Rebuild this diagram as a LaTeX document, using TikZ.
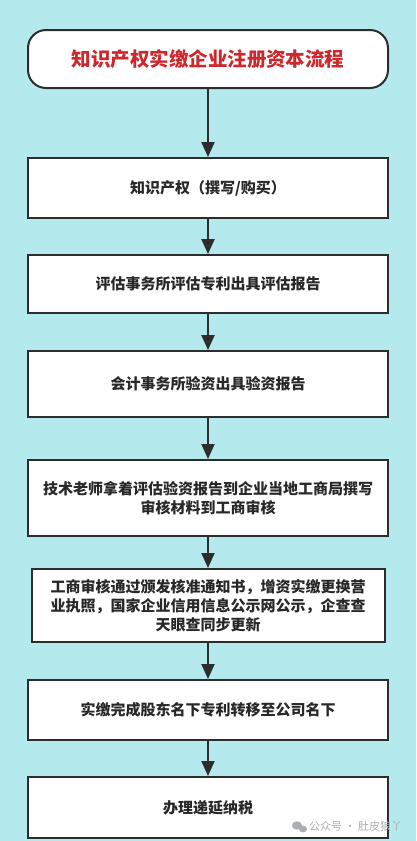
\documentclass[tikz,border=0pt]{standalone}
\usepackage{fontspec}
\setmainfont{Noto Sans CJK SC}
\usetikzlibrary{arrows.meta}
\definecolor{bgc}{RGB}{180,234,238}
\definecolor{edgec}{RGB}{45,45,45}
\definecolor{txtc}{RGB}{40,40,40}
\definecolor{titlec}{RGB}{205,40,45}
\definecolor{wmc}{RGB}{170,175,178}
\tikzset{
  stepbox/.style={draw=edgec, line width=2pt, fill=white, minimum width=360pt,
    text=txtc, font=\fontsize{15}{19}\selectfont\bfseries, align=center, inner sep=0pt},
  titlebox/.style={stepbox, rounded corners=18pt, text=titlec,
    font=\fontsize{19.5}{23}\selectfont\bfseries},
  flow/.style={draw=edgec, line width=2pt, -{Triangle[length=15pt,width=13pt]}},
}
\begin{document}
\begin{tikzpicture}[x=1pt,y=-1pt]
\fill[bgc] (0,0) rectangle (416,841);
\useasboundingbox (0,0) rectangle (416,841);
\node[titlebox, minimum height=58pt] (t) at (208,59) {知识产权实缴企业注册资本流程};
\node[stepbox, minimum height=60pt] (b1) at (208,188) {知识产权（撰写/购买）};
\node[stepbox, minimum height=58pt] (b2) at (208,284) {评估事务所评估专利出具评估报告};
\node[stepbox, minimum height=66pt] (b3) at (208,384) {会计事务所验资出具验资报告};
\node[stepbox, minimum height=76pt] (b4) at (208,498) {技术老师拿着评估验资报告到企业当地工商局撰写\\审核材料到工商审核};
\node[stepbox, minimum height=73pt, minimum width=353pt] (b5) at (208,605.5) {工商审核通过颁发核准通知书，增资实缴更换营\\业执照，国家企业信用信息公示网公示，企查查\\天眼查同步更新};
\node[stepbox, minimum height=60pt] (b6) at (208,710) {实缴完成股东名下专利转移至公司名下};
\node[stepbox, minimum height=61pt] (b7) at (208,807.5) {办理递延纳税};
\draw[flow] (t) -- (b1);
\draw[flow] (b1) -- (b2);
\draw[flow] (b2) -- (b3);
\draw[flow] (b3) -- (b4);
\draw[flow] (b4) -- (b5);
\draw[flow] (b5) -- (b6);
\draw[flow] (b6) -- (b7);
% watermark
\fill[wmc] (297,825.5) ellipse (5pt and 4.2pt);
\fill[wmc] (303,829) ellipse (4pt and 3.4pt);
\node[text=wmc, font=\fontsize{11}{13}\selectfont, anchor=west, inner sep=0pt] (wm) at (309,826.5) {公众号 · 肚皮狼丫};
\end{tikzpicture}
\end{document}
